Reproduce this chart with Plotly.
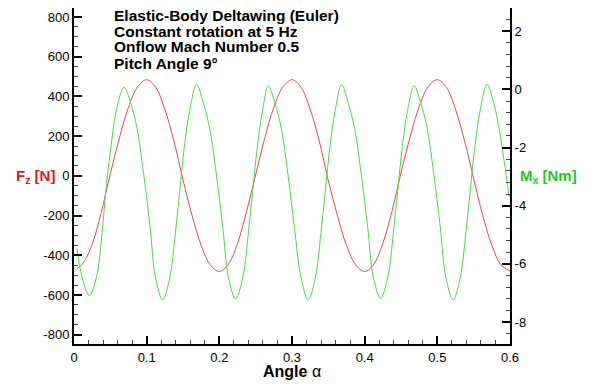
import plotly.graph_objects as go

# ---- data ----
fz_angle = [0.004, 0.0125, 0.025, 0.0375, 0.05, 0.0625, 0.075, 0.0875, 0.1, 0.1125,
            0.125, 0.1375, 0.15, 0.1625, 0.175, 0.1875, 0.2, 0.2125, 0.225, 0.2375,
            0.25, 0.2625, 0.275, 0.2875, 0.3, 0.3125, 0.325, 0.3375, 0.35, 0.3625,
            0.375, 0.3875, 0.4, 0.4125, 0.425, 0.4375, 0.45, 0.4625, 0.475, 0.4875,
            0.5, 0.5125, 0.525, 0.5375, 0.55, 0.5625, 0.575, 0.5875, 0.6]
fz_values = [-468, -440, -345, -185, 10, 190, 345, 448, 484, 445,
             335, 175, -20, -200, -350, -448, -482, -445, -340, -180,
             5, 190, 345, 448, 484, 445, 335, 175, -25, -200,
             -350, -448, -482, -445, -340, -180, 15, 195, 348, 450,
             484, 445, 335, 175, -15, -200, -350, -448, -480]

mx_angle = [0.004, 0.011, 0.021, 0.031, 0.0385, 0.0445, 0.051, 0.058, 0.0688, 0.0778,
            0.0868, 0.0958, 0.1048, 0.112, 0.122,
            0.132, 0.1395, 0.1455, 0.152, 0.159, 0.1688, 0.1778, 0.1868, 0.1958, 0.2048,
            0.2124, 0.2224,
            0.2324, 0.2399, 0.2459, 0.2524, 0.2594, 0.2673, 0.2763, 0.2853, 0.2943, 0.3033,
            0.3123, 0.3223,
            0.3323, 0.3398, 0.3458, 0.3523, 0.3593, 0.3682, 0.3772, 0.3862, 0.3952, 0.4042,
            0.4119, 0.4219,
            0.4319, 0.4394, 0.4454, 0.4519, 0.4589, 0.4681, 0.4771, 0.4861, 0.4951, 0.5041,
            0.5117, 0.5217,
            0.5317, 0.5392, 0.5452, 0.5517, 0.5587, 0.5685, 0.5775, 0.586, 0.5988]
mx_values = [-5.46, -6.45, -7.09, -6.45, -4.95, -3.3, -1.95, -0.75, 0.07, -0.45,
             -1.35, -2.9, -4.75, -6.45, -7.24,
             -6.45, -4.95, -3.5, -1.95, -0.75, 0.17, -0.45, -1.35, -2.9, -4.75,
             -6.45, -7.21,
             -6.45, -4.95, -3.5, -1.95, -0.75, 0.12, -0.45, -1.35, -2.9, -4.75,
             -6.45, -7.24,
             -6.45, -4.95, -3.5, -1.95, -0.75, 0.17, -0.45, -1.35, -2.9, -4.75,
             -6.45, -7.18,
             -6.45, -4.95, -3.5, -1.95, -0.75, 0.12, -0.45, -1.35, -2.9, -4.75,
             -6.45, -7.24,
             -6.45, -4.95, -3.5, -1.95, -0.75, 0.17, -0.45, -1.5, -3.7]

x_ticks = [0, 0.1, 0.2, 0.3, 0.4, 0.5, 0.6]
x_ticklabels = ["0", "0.1", "0.2", "0.3", "0.4", "0.5", "0.6"]
fz_ticks = [-800, -600, -400, -200, 0, 200, 400, 600, 800]
fz_ticklabels = ["-800", "-600", "-400", "-200", "0", "200", "400", "600", "800"]
mx_ticks = [-8, -6, -4, -2, 0, 2]
mx_ticklabels = ["-8", "-6", "-4", "-2", "0", "2"]

info_lines = ["Elastic-Body Deltawing (Euler)", "Constant rotation at 5 Hz",
              "Onflow Mach Number 0.5", "Pitch Angle 9°"]

FONT = "Liberation Sans, Arial, Helvetica, sans-serif"

fig = go.Figure()
fig.add_trace(go.Scatter(x=fz_angle, y=fz_values, mode="lines", yaxis="y",
                         line=dict(color="#e24a4a", width=1, shape="spline", smoothing=1.0),
                         showlegend=False))
fig.add_trace(go.Scatter(x=mx_angle, y=mx_values, mode="lines", yaxis="y2",
                         line=dict(color="#4cd84c", width=1, shape="spline", smoothing=1.0),
                         showlegend=False))

axis_common = dict(showgrid=False, zeroline=False, showline=True, linecolor="black",
                   linewidth=2, ticks="inside", ticklen=8, tickwidth=2, tickcolor="black",
                   tickfont=dict(family=FONT, size=13, color="black"), automargin=False,
                   tickmode="array")

# page body adds an 8px offset, so the figure is placed accordingly
fig.update_layout(
    width=587, height=379,
    margin=dict(l=66, r=85, t=0, b=43, pad=0),
    paper_bgcolor="white", plot_bgcolor="white",
    font=dict(family=FONT, color="black"),
    xaxis=dict(range=[0, 0.6], tickvals=x_ticks, ticktext=x_ticklabels,
               minor=dict(dtick=0.02, tick0=0, ticks="inside", ticklen=4, tickwidth=1,
                          tickcolor="#444"),
               **axis_common),
    yaxis=dict(range=[-847, 845], tickvals=fz_ticks, ticktext=fz_ticklabels,
               minor=dict(dtick=50, tick0=0, ticks="inside", ticklen=4, tickwidth=1,
                          tickcolor="#444"),
               **axis_common),
    yaxis2=dict(range=[-8.756, 2.80], overlaying="y", side="right", anchor="x",
                tickvals=mx_ticks, ticktext=mx_ticklabels,
                minor=dict(dtick=0.4, tick0=0, ticks="inside", ticklen=4, tickwidth=1,
                           tickcolor="#444"),
                **axis_common),
)

ann = []
ys = [0.979, 0.9315, 0.884, 0.8363]
for line, yy in zip(info_lines, ys):
    ann.append(dict(text="<b>" + line + "</b>", xref="paper", yref="paper", x=0.0872, y=yy,
                    xanchor="left", yanchor="middle", showarrow=False,
                    font=dict(family=FONT, size=15.5, color="black")))
ann.append(dict(text="<b>F<sub>z</sub> [N]</b>", xref="paper", yref="paper", x=-0.039, y=0.498,
                xanchor="right", yanchor="middle", showarrow=False,
                font=dict(family=FONT, size=15, color="#dd1c1c")))
ann.append(dict(text="<b>M<sub>x</sub> [Nm]</b>", xref="paper", yref="paper", x=1.018, y=0.498,
                xanchor="left", yanchor="middle", showarrow=False,
                font=dict(family=FONT, size=15, color="#1ec81e")))
ann.append(dict(text="<b>Angle</b> α", xref="paper", yref="paper", x=0.5, y=-0.0824,
                xanchor="center", yanchor="middle", showarrow=False,
                font=dict(family=FONT, size=16, color="black")))
fig.update_layout(annotations=ann)

fig.write_html("out.html")
